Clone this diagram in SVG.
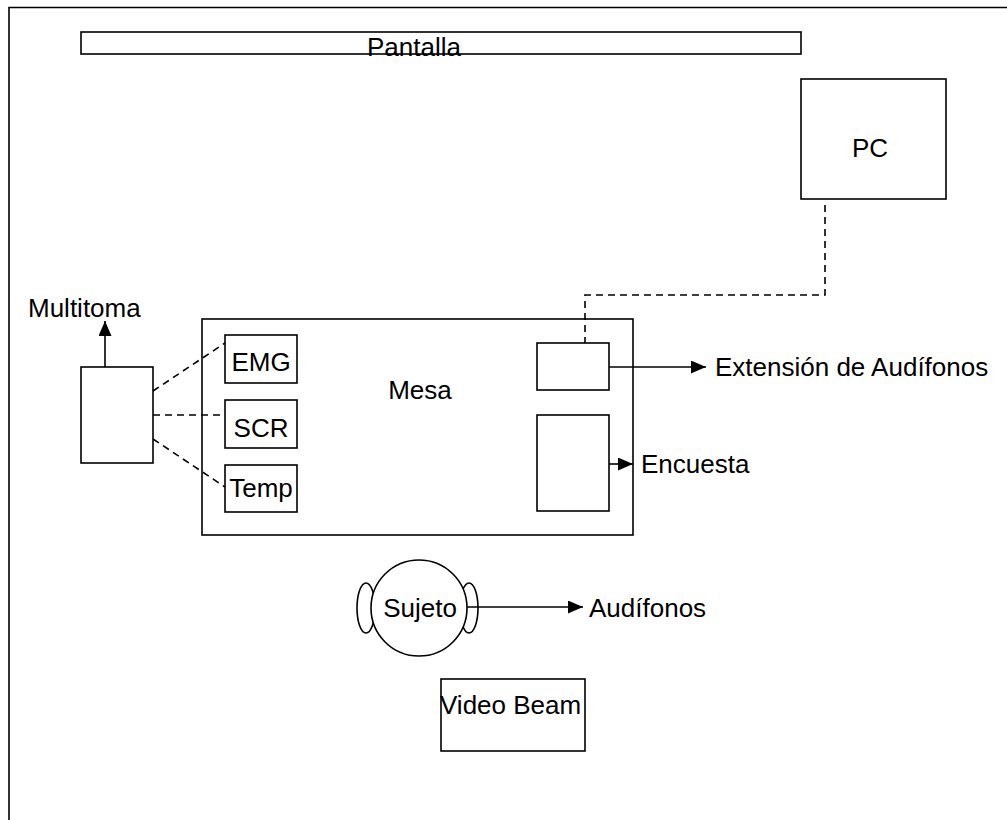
<svg xmlns="http://www.w3.org/2000/svg" width="1007" height="820" viewBox="0 0 1007 820">
<style>
.box{fill:#fff;stroke:#000;stroke-width:1.6}
.t{font-family:"Liberation Sans",Arial,sans-serif;font-size:26px;fill:#000}
.dash{fill:none;stroke:#000;stroke-width:1.6;stroke-dasharray:7,5}
.ln{fill:none;stroke:#000;stroke-width:1.6}
</style>
<defs>
<marker id="ahb" markerWidth="15" markerHeight="13" refX="15" refY="6.5" orient="auto" markerUnits="userSpaceOnUse" viewBox="0 0 15 13">
<path d="M0,0 L15,6.5 L0,13 Z" fill="#000"/>
</marker>
</defs>
<path d="M9,820 L9,7.5 L1007,7.5" class="ln" stroke-width="2"/>
<g id="pantalla"><rect class="box" x="81" y="32" width="720" height="22"/><text class="t" x="414" y="56" text-anchor="middle">Pantalla</text></g>
<g id="pc"><rect class="box" x="801" y="79" width="145" height="120"/><text class="t" x="870" y="157" text-anchor="middle">PC</text></g>
<g id="mesa"><rect class="box" x="202" y="319" width="431" height="216"/><text class="t" x="420" y="399" text-anchor="middle">Mesa</text></g>
<g id="emg"><rect class="box" x="225" y="335" width="72" height="48"/><text class="t" x="261" y="371" text-anchor="middle">EMG</text></g>
<g id="scr"><rect class="box" x="225" y="400" width="72" height="48"/><text class="t" x="261" y="437" text-anchor="middle">SCR</text></g>
<g id="temp"><rect class="box" x="225" y="465" width="72" height="47"/><text class="t" x="261" y="497" text-anchor="middle">Temp</text></g>
<g id="multitoma"><rect class="box" x="81" y="367" width="72" height="96"/><text class="t" x="28" y="317">Multitoma</text></g>
<g id="extension"><rect class="box" x="537" y="343" width="72" height="47"/><text class="t" x="715" y="376">Extensión de Audífonos</text></g>
<g id="encuesta"><rect class="box" x="537" y="415" width="72" height="96"/><text class="t" x="641" y="473">Encuesta</text></g>
<g id="sujeto">
<ellipse class="box" cx="366" cy="608" rx="9" ry="25"/>
<ellipse class="box" cx="469" cy="608" rx="9" ry="25"/>
<circle class="box" cx="419" cy="608" r="48"/>
<text class="t" x="420" y="617" text-anchor="middle">Sujeto</text>
</g>
<g id="audifonos"><text class="t" x="589" y="617">Audífonos</text></g>
<g id="videobeam"><rect class="box" x="441" y="679" width="144" height="72"/><text class="t" x="440" y="714">Video Beam</text></g>
<g id="connectors">
<path class="dash" d="M825,205 L825,295 L585,295 L585,343"/>
<path class="dash" d="M153,391 L225,343"/>
<path class="dash" d="M153,415 L225,415"/>
<path class="dash" d="M153,439 L225,487"/>
<path class="ln" d="M105,367 L105,321" marker-end="url(#ahb)"/>
<path class="ln" d="M609,367 L706,367" marker-end="url(#ahb)"/>
<path class="ln" d="M609,464 L633,464" marker-end="url(#ahb)"/>
<path class="ln" d="M467,607 L583,607" marker-end="url(#ahb)"/>
</g>
</svg>
